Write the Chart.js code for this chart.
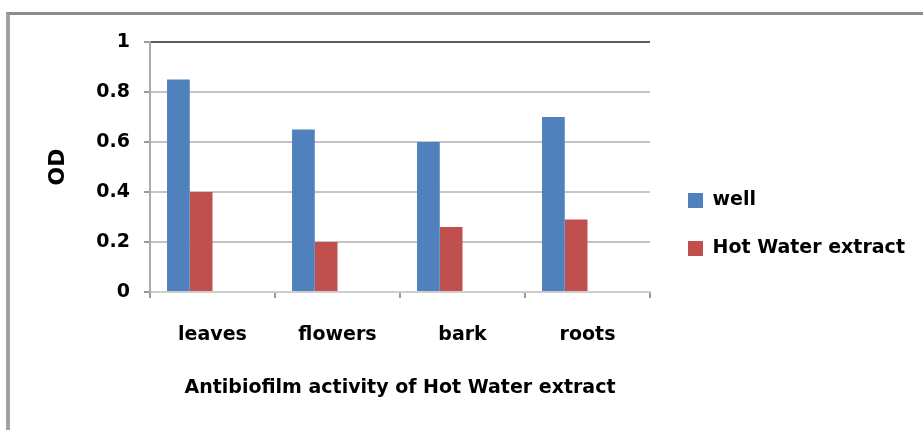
<!DOCTYPE html>
<html>
<head>
<meta charset="utf-8">
<script src="https://cdn.jsdelivr.net/npm/chart.js@4.4.1/dist/chart.umd.min.js"></script>
<style>
  html, body { margin: 0; padding: 0; background: #ffffff; }
  #wrap { position: relative; width: 923px; height: 430px; overflow: hidden; }
  #frame { position: absolute; left: 6px; top: 12px; right: -10px; bottom: -10px;
           border-top: 3px solid #8c8c8c; border-left: 4px solid #a3a3a3; }
  #holder { position: absolute; left: 0; top: 0; width: 923px; height: 430px; }
</style>
</head>
<body>
<div id="wrap">
  <div id="frame"></div>
  <div id="holder"><canvas id="chart"></canvas></div>
</div>
<script>
// Absorbance (OD) of the two treatments for each plant part
const categories = ['leaves', 'flowers', 'bark', 'roots'];
const wellValues = [0.85, 0.65, 0.60, 0.70];
const hotWaterValues = [0.40, 0.20, 0.26, 0.29];
const seriesNames = ['well', 'Hot Water extract'];
const yAxisTitle = 'OD';
const xAxisTitle = 'Antibiofilm activity of Hot Water extract';

const FONT = 'DejaVu Sans';
Chart.defaults.font.family = FONT;
Chart.defaults.color = '#000000';

// Fixed plot box and a right-hand legend column
const PLOT_LEFT = 150, PLOT_RIGHT = 650, PLOT_TOP = 42, PLOT_BOTTOM = 292;

const legendPlacement = {
  id: 'legendPlacement',
  beforeUpdate(chart) {
    const lg = chart.legend;
    if (lg && !lg._fixedWidth) {
      const origFit = lg.fit.bind(lg);
      lg.fit = function () {
        origFit();
        this.width = chart.width - PLOT_RIGHT;
      };
      lg._fixedWidth = true;
    }
  },
  afterLayout(chart) {
    const lg = chart.legend;
    if (lg) {
      lg.left += 9; lg.right += 9;
      lg.top -= 5; lg.bottom -= 5;
    }
  }
};

new Chart(document.getElementById('chart'), {
  type: 'bar',
  data: {
    labels: categories,
    datasets: [
      { label: seriesNames[0], data: wellValues, backgroundColor: '#4f81bd' },
      { label: seriesNames[1], data: hotWaterValues, backgroundColor: '#c0504d' },
      // two unused slots in each group keep the bars to the left of the category
      { label: '', data: [], backgroundColor: 'rgba(0,0,0,0)' },
      { label: '', data: [], backgroundColor: 'rgba(0,0,0,0)' }
    ]
  },
  options: {
    responsive: true,
    maintainAspectRatio: false,
    animation: false,
    devicePixelRatio: 1,
    categoryPercentage: 4 / 5.5,
    barPercentage: 1.0,
    layout: { padding: { left: 0, right: 0, top: PLOT_TOP, bottom: 0 } },
    plugins: {
      tooltip: { enabled: false },
      legend: {
        display: true,
        position: 'right',
        align: 'end',
        fullSize: false,
        labels: {
          boxWidth: 15,
          boxHeight: 15,
          padding: 29,
          color: '#000000',
          font: { family: FONT, size: 19, weight: 'bold' },
          filter: (item) => item.datasetIndex < 2
        }
      }
    },
    scales: {
      x: {
        offset: true,
        grid: {
          display: true,
          drawOnChartArea: false,
          drawTicks: true,
          tickLength: 6,
          tickColor: '#9a9a9a',
          lineWidth: 2,
          offset: true
        },
        border: { display: true, color: '#cdcdcd', width: 2 },
        ticks: {
          autoSkip: false,
          maxRotation: 0,
          minRotation: 0,
          padding: 26,
          color: '#000000',
          font: { family: FONT, size: 19, weight: 'bold' }
        },
        title: {
          display: true,
          text: xAxisTitle,
          color: '#000000',
          font: { family: FONT, size: 19, weight: 'bold' },
          padding: { top: 0, bottom: 31 }
        },
        afterFit(scale) { scale.height = 430 - PLOT_BOTTOM; }
      },
      y: {
        min: 0,
        max: 1,
        ticks: {
          stepSize: 0.2,
          padding: 14,
          color: '#000000',
          font: { family: FONT, size: 19, weight: 'bold' },
          callback: (v) => String(Math.round(v * 10) / 10)
        },
        grid: {
          color: (ctx) => (ctx.tick && ctx.tick.value === 1 ? '#5c5c5c' : '#c4c4c4'),
          lineWidth: 2,
          tickLength: 6,
          tickColor: '#9a9a9a'
        },
        border: { display: true, color: '#ababab', width: 2 },
        title: {
          display: true,
          text: yAxisTitle,
          color: '#000000',
          font: { family: FONT, size: 22, weight: 'bold' },
          padding: { top: 45, bottom: 0 }
        },
        afterFit(scale) { scale.width = PLOT_LEFT; }
      }
    }
  },
  plugins: [legendPlacement]
});
</script>
</body>
</html>
